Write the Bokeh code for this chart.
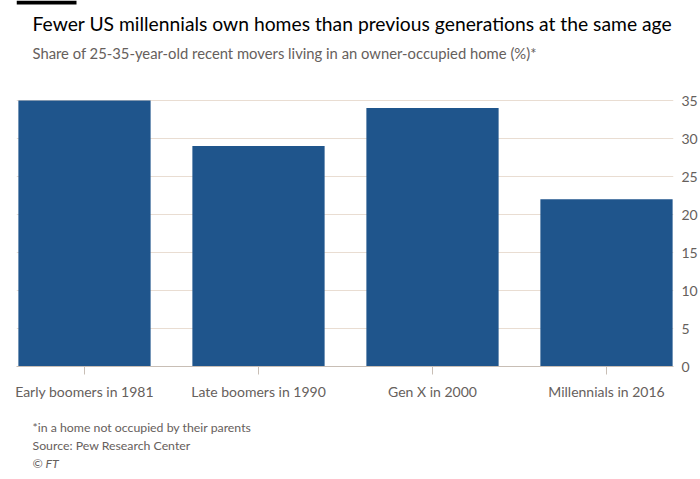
from bokeh.plotting import figure
from bokeh.models import Range1d, LinearAxis, FixedTicker, Label, BoxAnnotation
from bokeh.layouts import column
from bokeh.embed import file_html
from bokeh.resources import INLINE

categories = ["Early boomers in 1981", "Late boomers in 1990", "Gen X in 2000", "Millennials in 2016"]
values = [35, 29, 34, 22]
y_ticks = [0, 5, 10, 15, 20, 25, 30, 35]

title = "Fewer US millennials own homes than previous generations at the same age"
subtitle = "Share of 25-35-year-old recent movers living in an owner-occupied home (%)*"
notes = ["*in a home not occupied by their parents", "Source: Pew Research Center", "\u00a9 FT"]

FONT = "Lato"
GREY = "#66605c"
BAR = "#1f558c"
AXIS = "#c8beb5"
W = 700


def text_panel(height):
    """A figure whose frame is the whole canvas, for header / footer texts."""
    f = figure(width=W, height=height, output_backend="svg", toolbar_location=None,
               x_range=Range1d(0, W), y_range=Range1d(0, height),
               x_axis_location=None, y_axis_location=None,
               min_border_left=0, min_border_right=0, min_border_top=0, min_border_bottom=0,
               background_fill_color="white", border_fill_color="white")
    f.outline_line_color = None
    f.xgrid.visible = False
    f.ygrid.visible = False
    return f


def add_text(f, height, txt, cx, cy, size, color, style="normal"):
    # Label screen units: x from the frame's left, y up from its bottom
    f.add_layout(Label(x=cx, y=height - cy, x_units="screen", y_units="screen",
                       text=txt, text_font=FONT, text_font_size=size,
                       text_color=color, text_font_style=style,
                       text_baseline="middle", text_align="left"))


# ---- header (canvas y 0..80)
HEAD_H = 80
head = text_panel(HEAD_H)
head.add_layout(BoxAnnotation(left=0, right=60, top=HEAD_H, bottom=HEAD_H - 4,
                              left_units="screen", right_units="screen",
                              top_units="screen", bottom_units="screen",
                              fill_color="black", fill_alpha=1, line_color=None))
add_text(head, HEAD_H, title, 16, 23, "19.3px", "#000000")
add_text(head, HEAD_H, subtitle, 16, 52, "14.8px", GREY)

# ---- main chart (canvas y 80..410)
MAIN_TOP, MAIN_H = 80, 330
frame_left, frame_right, frame_bottom = 16, 673, 366
px_per_unit_x = 174.0
px_per_unit_y = 7.6
x0 = 0.5 - (84 - frame_left) / px_per_unit_x
x1 = x0 + (frame_right - frame_left) / px_per_unit_x
y_top = (frame_bottom - MAIN_TOP) / px_per_unit_y

xs = [i + 0.5 for i in range(len(categories))]

p = figure(width=W, height=MAIN_H, output_backend="svg", toolbar_location=None,
           x_range=Range1d(x0, x1), y_range=Range1d(0, y_top),
           x_axis_location=None, y_axis_location=None,
           min_border_left=frame_left, min_border_right=W - frame_right,
           min_border_top=0, min_border_bottom=MAIN_TOP + MAIN_H - frame_bottom,
           background_fill_color="white", border_fill_color="white")
p.outline_line_color = None

p.vbar(x=xs, top=values, width=0.76, bottom=0, fill_color=BAR, line_color=None)

xaxis = LinearAxis(ticker=FixedTicker(ticks=xs),
                   major_label_overrides={x: c for x, c in zip(xs, categories)})
xaxis.axis_line_color = AXIS
xaxis.major_tick_line_color = AXIS
xaxis.major_tick_out = 8
xaxis.major_tick_in = 0
xaxis.minor_tick_line_color = None
xaxis.major_label_text_font = FONT
xaxis.major_label_text_font_size = "14px"
xaxis.major_label_text_color = GREY
xaxis.major_label_standoff = 8
p.add_layout(xaxis, "below")

yaxis = LinearAxis(ticker=FixedTicker(ticks=y_ticks), bounds=(0, 35))
yaxis.axis_line_color = None
yaxis.major_tick_line_color = None
yaxis.major_tick_out = 0
yaxis.major_tick_in = 0
yaxis.minor_tick_line_color = None
yaxis.minor_tick_out = 0
yaxis.major_label_text_font = FONT
yaxis.major_label_text_font_size = "14px"
yaxis.major_label_text_color = GREY
yaxis.major_label_text_align = "center"
yaxis.major_label_standoff = 8
p.add_layout(yaxis, "right")

p.xgrid.grid_line_color = None
p.ygrid.ticker = FixedTicker(ticks=y_ticks)
p.ygrid.grid_line_color = "#e9ddd2"
p.ygrid.grid_line_width = 1

# ---- footer (canvas y 410..479)
FOOT_TOP = MAIN_TOP + MAIN_H
FOOT_H = 479 - FOOT_TOP
foot = text_panel(FOOT_H)
for i, n in enumerate(notes):
    add_text(foot, FOOT_H, n, 16, 427 + 18 * i - FOOT_TOP, "12.3px", GREY,
             "italic" if n.startswith("\u00a9") else "normal")

layout = column(head, p, foot, spacing=0)
open("out.html", "w").write(file_html(layout, INLINE))
